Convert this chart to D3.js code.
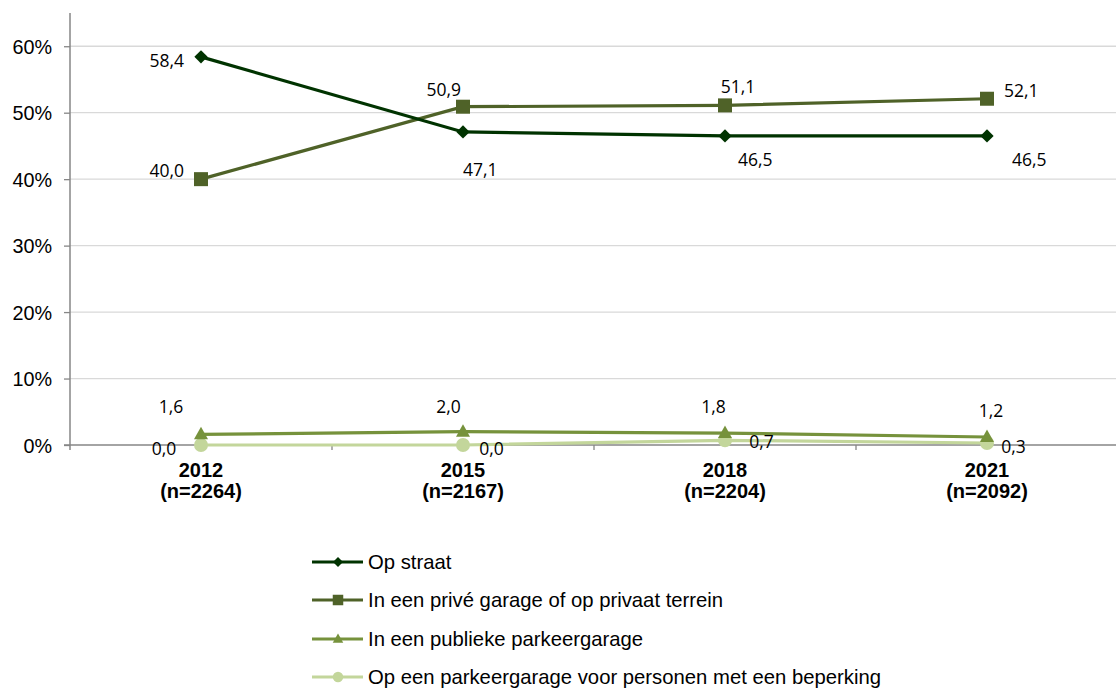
<!DOCTYPE html>
<html><head><meta charset="utf-8">
<script src="https://cdn.jsdelivr.net/npm/d3@7"></script>
<style>body{margin:0;background:#fff}svg{display:block}</style>
</head><body>
<svg id="c" width="1116" height="688"></svg>
<script>
const years = ["2012", "2015", "2018", "2021"];
const nLabels = ["(n=2264)", "(n=2167)", "(n=2204)", "(n=2092)"];
const yTicks = [0, 10, 20, 30, 40, 50, 60];
const seriesNames = ["Op straat", "In een privé garage of op privaat terrein", "In een publieke parkeergarage", "Op een parkeergarage voor personen met een beperking"];
const opStraat = [58.4, 47.1, 46.5, 46.5];
const priveGarage = [40.0, 50.9, 51.1, 52.1];
const publiekeGarage = [1.6, 2.0, 1.8, 1.2];
const beperking = [0.0, 0.0, 0.7, 0.3];
const colors = ["#003300", "#4f6228", "#76923c", "#c3d69b"];
const allSeries = [opStraat, priveGarage, publiekeGarage, beperking];
// label placement per point: [dx, baseline dy, anchor]
const labelPos = [
  [[-17, 10, "end"], [0, 44, "start"], [13, 30, "start"], [25, 30, "start"]],
  [[-17, -2, "end"], [-2, -11, "end"], [13, -12, "middle"], [17, -2, "start"]],
  [[-30, -21, "middle"], [-14.5, -19, "middle"], [-11.5, -20, "middle"], [4, -20, "middle"]],
  [[-37, 10, "middle"], [28.5, 10, "middle"], [36.5, 8, "middle"], [26.5, 10, "middle"]]
];

const svg = d3.select("#c");
const x = d3.scaleBand().domain(years).range([70, 1118]);
const y = d3.scaleLinear().domain([0, 65]).range([445, 13]);

// gridlines
svg.append("g").selectAll("line").data(yTicks.filter(d => d > 0)).join("line")
  .attr("x1", 70).attr("x2", 1116).attr("y1", d => y(d)).attr("y2", d => y(d))
  .attr("stroke", "#d9d9d9").attr("stroke-width", 1.3);

// y axis
const yAxis = svg.append("g").attr("transform", "translate(70,0)")
  .call(d3.axisLeft(y).tickValues(yTicks).tickFormat(d => d + "%").tickSize(6).tickSizeOuter(0));
yAxis.select(".domain").remove();
yAxis.selectAll(".tick line").attr("stroke", "#868686").attr("stroke-width", 1.3);
yAxis.selectAll("text").attr("font-family", "Liberation Sans, Arial").attr("font-size", 19.8).attr("fill", "#000").attr("x", -18).attr("dy", "0.36em");
svg.append("line").attr("x1", 70).attr("x2", 70).attr("y1", 13).attr("y2", y(0) + 5).attr("stroke", "#868686").attr("stroke-width", 1.5);

// x axis
const xAxis = svg.append("g").attr("transform", `translate(0,${y(0)})`);
xAxis.append("line").attr("x1", 64).attr("x2", 1116).attr("stroke", "#868686").attr("stroke-width", 1.5);
const bounds = years.slice(1).map(d => x(d));
xAxis.selectAll("line.tk").data(bounds).join("line").attr("class", "tk")
  .attr("x1", d => d).attr("x2", d => d).attr("y1", 0).attr("y2", 5)
  .attr("stroke", "#868686").attr("stroke-width", 1.3);
const cx = d => x(d) + x.bandwidth() / 2;
const xl = xAxis.selectAll("text.yr").data(years).join("text").attr("class", "yr")
  .attr("text-anchor", "middle")
  .attr("font-family", "Liberation Sans, Arial").attr("font-weight", "bold").attr("font-size", 20).attr("fill", "#000");
xl.append("tspan").attr("x", d => cx(d)).attr("y", 32).text(d => d);
xl.append("tspan").attr("x", d => cx(d)).attr("y", 53).text((d, i) => nLabels[i]);

const line = d3.line().x((d, i) => cx(years[i])).y(d => y(d));

function drawMarker(sel, s, scale) {
  const k = scale || 1;
  if (s === 0) {
    sel.append("rect").attr("x", -4.7 * k).attr("y", -4.7 * k).attr("width", 9.4 * k).attr("height", 9.4 * k)
      .attr("transform", "rotate(45)").attr("fill", colors[s]);
  } else if (s === 1) {
    sel.append("rect").attr("x", -7 * k).attr("y", -7 * k).attr("width", 14 * k).attr("height", 14 * k).attr("fill", colors[s]);
  } else if (s === 2) {
    sel.append("path").attr("d", `M0,${-7.5 * k}L${7 * k},${5 * k}L${-7 * k},${5 * k}Z`).attr("fill", colors[s]);
  } else {
    sel.append("circle").attr("r", 7 * k).attr("fill", colors[s]);
  }
}

// draw series (light first so dark on top)
[3, 2, 1, 0].forEach(s => {
  const g = svg.append("g");
  g.append("path").datum(allSeries[s]).attr("d", line).attr("fill", "none")
    .attr("stroke", colors[s]).attr("stroke-width", 3.2);
  g.selectAll("g.m").data(allSeries[s]).join("g").attr("class", "m")
    .attr("transform", (d, i) => `translate(${cx(years[i])},${y(d)})`)
    .each(function () { drawMarker(d3.select(this), s, 1); });
});
// labels
allSeries.forEach((arr, s) => {
  svg.append("g").selectAll("text").data(arr).join("text")
    .attr("x", (d, i) => cx(years[i]) + labelPos[s][i][0])
    .attr("y", (d, i) => y(d) + labelPos[s][i][1])
    .attr("text-anchor", (d, i) => labelPos[s][i][2])
    .attr("font-family", "Open Sans, Noto Sans, sans-serif").attr("font-size", 17.5).attr("fill", "#000")
    .text(d => d.toFixed(1).replace(".", ","));
});

// legend
const leg = svg.append("g");
const legY = [562, 600, 639, 677];
seriesNames.forEach((name, s) => {
  const r = leg.append("g").attr("transform", `translate(0,${legY[s]})`);
  r.append("line").attr("x1", 312).attr("x2", 363).attr("stroke", colors[s]).attr("stroke-width", 3);
  const m = r.append("g").attr("transform", "translate(338,0)");
  drawMarker(m, s, 0.75);
  r.append("text").attr("x", 368).attr("y", 0).attr("dy", "0.36em")
    .attr("font-family", "Liberation Sans, Arial").attr("font-size", 20.3).attr("fill", "#000").text(name);
});
</script>
</body></html>
